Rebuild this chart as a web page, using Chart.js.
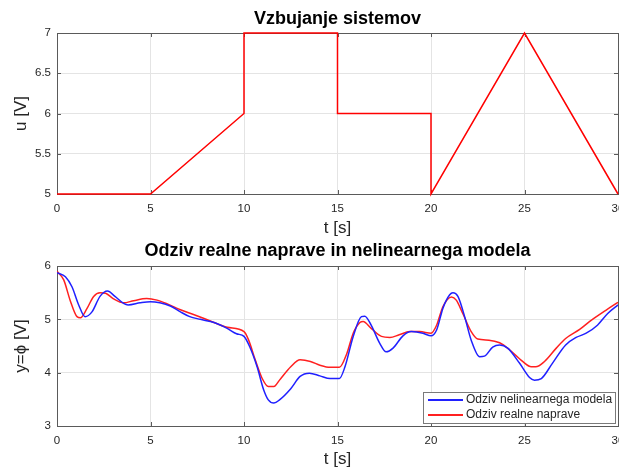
<!DOCTYPE html>
<html>
<head>
<style>
    body { margin: 0; width: 619px; height: 470px; overflow: hidden; background: #fff; position: relative; }
    canvas { position: absolute; left: 0; }
</style>
</head>
<body>
    <canvas id="inputChart" width="660" height="245" style="top:0"></canvas>
    <canvas id="responseChart" width="660" height="235" style="top:235px"></canvas>
    <script src="https://cdn.jsdelivr.net/npm/chart.js"></script>

    <script>
        // vzbujanje
        const inputT = [0, 5, 10, 10, 15, 15, 20, 20, 25, 30]
        const inputU = [5, 5, 6, 7, 7, 6, 6, 5, 7, 5]

        // odziv nelinearnega modela
        const modelT = [0, 0.45, 0.8, 1.16, 1.5, 1.87, 2.3, 2.7, 3.1, 3.56, 3.8, 4.45, 5, 5.5, 6.06, 6.6, 7.1, 7.66, 8.4, 9.1, 9.6, 10, 10.3, 10.7, 11.05, 11.3, 11.6, 11.9, 12.5, 13.0, 13.5, 14.06, 14.6, 15.1, 15.4, 15.84, 16.28, 16.46, 16.8, 17.26, 17.6, 17.97, 18.5, 18.95, 19.57, 20.0, 20.3, 20.64, 21.0, 21.17, 21.44, 21.8, 22.15, 22.6, 22.86, 23.3, 23.67, 24.1, 24.73, 25.27, 25.53, 25.9, 26.5, 27.2, 27.76, 28.3, 28.9, 29.45, 30]
        const modelY = [5.875, 5.8, 5.61, 5.27, 5.05, 5.14, 5.43, 5.53, 5.43, 5.3, 5.27, 5.31, 5.33, 5.31, 5.25, 5.14, 5.05, 5.0, 4.94, 4.83, 4.73, 4.68, 4.49, 4.11, 3.68, 3.49, 3.43, 3.49, 3.7, 3.93, 3.99, 3.94, 3.89, 3.89, 4.11, 4.68, 5.05, 5.06, 4.89, 4.55, 4.39, 4.46, 4.69, 4.77, 4.74, 4.69, 4.8, 5.21, 5.46, 5.5, 5.43, 5.05, 4.61, 4.3, 4.31, 4.48, 4.52, 4.46, 4.18, 3.91, 3.86, 3.89, 4.18, 4.52, 4.66, 4.74, 4.89, 5.11, 5.27]

        // odziv realne naprave
        const realT = [0, 0.36, 0.7, 1.07, 1.25, 1.6, 1.96, 2.3, 2.6, 3.0, 3.56, 4.1, 4.8, 5.35, 5.9, 6.6, 7.3, 8.2, 9.1, 10, 10.25, 10.6, 10.96, 11.3, 11.6, 11.9, 12.5, 13.0, 13.55, 14.06, 14.6, 15.1, 15.5, 15.84, 16.2, 16.37, 16.8, 17.35, 17.8, 18.3, 18.86, 19.4, 20.0, 20.3, 20.64, 21.1, 21.35, 21.7, 22.15, 22.5, 23.1, 23.67, 24.2, 24.9, 25.36, 25.6, 26.07, 26.7, 27.2, 27.95, 28.6, 29.35, 30]
        const realY = [5.9, 5.74, 5.36, 5.05, 5.03, 5.2, 5.43, 5.5, 5.49, 5.39, 5.31, 5.35, 5.39, 5.36, 5.29, 5.18, 5.09, 4.97, 4.85, 4.77, 4.61, 4.24, 3.9, 3.74, 3.74, 3.86, 4.11, 4.24, 4.21, 4.14, 4.1, 4.1, 4.36, 4.74, 4.94, 4.96, 4.83, 4.68, 4.66, 4.71, 4.77, 4.77, 4.74, 4.89, 5.24, 5.42, 5.36, 5.11, 4.77, 4.63, 4.61, 4.56, 4.43, 4.21, 4.11, 4.11, 4.21, 4.46, 4.64, 4.81, 4.99, 5.17, 5.32]

        const FONT = "'Liberation Sans', Arial, sans-serif"
        const TEXT = '#262626'
        const GRID = '#e4e4e4'

        const toPoints = (xs, ys) => xs.map((x, i) => ({ x: x, y: ys[i] }))

        // okvir okoli grafa + notranje oznake
        const boxPlugin = {
            id: 'box',
            beforeDatasetsDraw(chart) {
                const ctx = chart.ctx
                const a = chart.chartArea
                const xs = chart.scales.x
                const ys = chart.scales.y
                ctx.save()
                ctx.strokeStyle = '#5a5a5a'
                ctx.lineWidth = 1
                ctx.beginPath()
                xs.ticks.forEach(t => {
                    const px = Math.round(xs.getPixelForValue(t.value)) + 0.5
                    ctx.moveTo(px, a.bottom); ctx.lineTo(px, a.bottom - 4)
                    ctx.moveTo(px, a.top); ctx.lineTo(px, a.top + 4)
                })
                ys.ticks.forEach(t => {
                    const py = Math.round(ys.getPixelForValue(t.value)) + 0.5
                    ctx.moveTo(a.left, py); ctx.lineTo(a.left + 4, py)
                    ctx.moveTo(a.right, py); ctx.lineTo(a.right - 4, py)
                })
                ctx.stroke()
                ctx.strokeRect(Math.round(a.left) + 0.5, Math.round(a.top) + 0.5, Math.round(a.right - a.left), Math.round(a.bottom - a.top))
                ctx.restore()
            }
        }

        // legenda v spodnjem desnem kotu
        const legendPlugin = {
            id: 'cornerLegend',
            afterDatasetsDraw(chart) {
                const ctx = chart.ctx
                const a = chart.chartArea
                const w = 192, h = 31
                const left = a.right - w - 3
                const top = a.bottom - h - 3
                ctx.save()
                ctx.fillStyle = '#fff'
                ctx.fillRect(left, top, w, h)
                ctx.strokeStyle = '#7a7a7a'
                ctx.lineWidth = 1
                ctx.strokeRect(left + 0.5, top + 0.5, w, h)
                ctx.font = '12px ' + FONT
                ctx.textBaseline = 'middle'
                chart.data.datasets.forEach((ds, i) => {
                    const y = top + 8 + i * 15
                    ctx.strokeStyle = ds.borderColor
                    ctx.lineWidth = 2
                    ctx.beginPath()
                    ctx.moveTo(left + 5, y)
                    ctx.lineTo(left + 40, y)
                    ctx.stroke()
                    ctx.fillStyle = TEXT
                    ctx.fillText(ds.label, left + 43, y)
                })
                ctx.restore()
            }
        }

        function axes(yMin, yMax, yStep, yTitle, xHeight, xTitlePad) {
            return {
                x: {
                    type: 'linear', min: 0, max: 30,
                    ticks: { stepSize: 5, color: TEXT, font: { family: FONT, size: 11.5 }, padding: 8 },
                    grid: { color: GRID, drawTicks: false },
                    border: { display: false },
                    title: { display: true, text: 't [s]', color: TEXT, font: { family: FONT, size: 17 }, padding: { top: 0, bottom: xTitlePad } },
                    afterFit: (scale) => { scale.height = xHeight }
                },
                y: {
                    min: yMin, max: yMax,
                    ticks: { stepSize: yStep, color: TEXT, font: { family: FONT, size: 11.5 }, padding: 6, callback: (v) => String(v) },
                    grid: { color: GRID, drawTicks: false },
                    border: { display: false },
                    title: { display: true, text: yTitle, color: TEXT, font: { family: FONT, size: 17 }, padding: { top: 11, bottom: 0 } },
                    afterFit: (scale) => { scale.width = 57 }
                }
            }
        }

        new Chart(document.getElementById('inputChart'), {
            type: 'line',
            data: {
                datasets: [{
                    label: 'u',
                    data: toPoints(inputT, inputU),
                    borderColor: '#ff0000',
                    borderWidth: 1.5,
                    pointRadius: 0,
                    tension: 0,
                    clip: 3,
                    fill: false
                }]
            },
            options: {
                responsive: false,
                animation: false,
                layout: { padding: { left: 0, right: 42, top: 0, bottom: 0 } },
                plugins: {
                    legend: { display: false },
                    tooltip: { enabled: false },
                    title: { display: true, fullSize: false, text: 'Vzbujanje sistemov', color: '#000', font: { family: FONT, size: 18, weight: 'bold' }, padding: { top: 8, bottom: 3.4 } }
                },
                scales: axes(5, 7, 0.5, 'u [V]', 51, 6)
            },
            plugins: [boxPlugin]
        })

        new Chart(document.getElementById('responseChart'), {
            type: 'line',
            data: {
                datasets: [{
                    label: 'Odziv nelinearnega modela',
                    data: toPoints(modelT, modelY),
                    borderColor: '#2020ff',
                    borderWidth: 1.5,
                    pointRadius: 0,
                    cubicInterpolationMode: 'monotone',
                    fill: false
                }, {
                    label: 'Odziv realne naprave',
                    data: toPoints(realT, realY),
                    borderColor: '#ff2020',
                    borderWidth: 1.5,
                    pointRadius: 0,
                    cubicInterpolationMode: 'monotone',
                    fill: false
                }]
            },
            options: {
                responsive: false,
                animation: false,
                layout: { padding: { left: 0, right: 42, top: 0, bottom: 0 } },
                plugins: {
                    legend: { display: false },
                    tooltip: { enabled: false },
                    title: { display: true, fullSize: false, text: 'Odziv realne naprave in nelinearnega modela', color: '#000', font: { family: FONT, size: 18, weight: 'bold' }, padding: { top: 5.7, bottom: 3.7 } }
                },
                scales: axes(3, 6, 1, 'y=ϕ [V]', 44, 0)
            },
            plugins: [boxPlugin, legendPlugin]
        })
    </script>
</body>
</html>
